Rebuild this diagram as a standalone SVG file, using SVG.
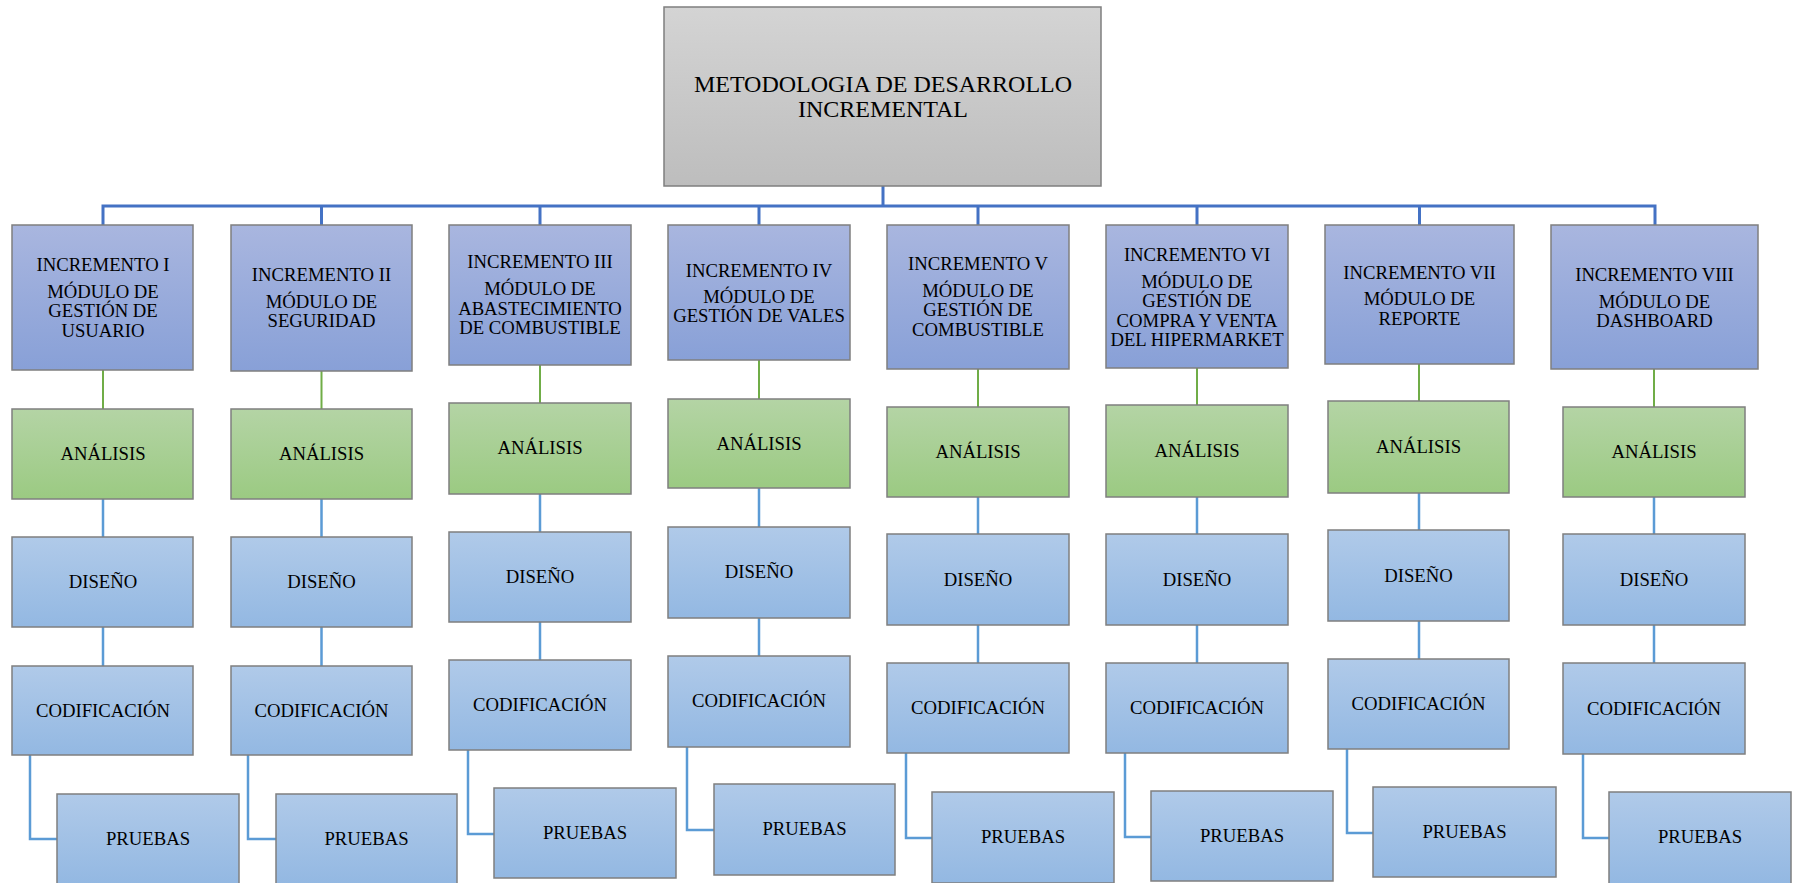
<svg xmlns="http://www.w3.org/2000/svg" width="1793" height="883" viewBox="0 0 1793 883">
<defs>
<linearGradient id="gGray" x1="0" y1="0" x2="0" y2="1"><stop offset="0" stop-color="#d4d4d4"/><stop offset="1" stop-color="#bdbdbd"/></linearGradient>
<linearGradient id="gInc" x1="0" y1="0" x2="0" y2="1"><stop offset="0" stop-color="#a9b6df"/><stop offset="1" stop-color="#88a0d7"/></linearGradient>
<linearGradient id="gAna" x1="0" y1="0" x2="0" y2="1"><stop offset="0" stop-color="#b4d4a5"/><stop offset="1" stop-color="#9bca82"/></linearGradient>
<linearGradient id="gStep" x1="0" y1="0" x2="0" y2="1"><stop offset="0" stop-color="#b0cae9"/><stop offset="1" stop-color="#93b8e2"/></linearGradient>
</defs>
<style>
rect{stroke:#7f7f7f;stroke-width:1.5}
.top{fill:url(#gGray)}
.inc{fill:url(#gInc)}
.ana{fill:url(#gAna)}
.stp{fill:url(#gStep)}
text{font-family:"Liberation Serif","Times New Roman",serif;font-size:18.7px;fill:#000;text-anchor:middle}
.t{font-size:24px}
.bus{fill:none;stroke:#4472c4;stroke-width:3}
.gr{fill:none;stroke:#70ad47;stroke-width:2}
.bl{fill:none;stroke:#5b9bd5;stroke-width:2.5}
</style>
<g id="connectors">
<path class="bus" d="M883,186V206M103,225V206H1655V225M321.5,206V225M540,206V225M759,206V225M978,206V225M1197,206V225M1419.5,206V225"/>
<path class="gr" d="M103,370V409M321.5,371V409M540,365V403M759,360V399M978,369V407M1197,368V405M1419,364V401M1654,369V407"/>
<path class="bl" d="M103,499V537M103,627V666M321.5,499V537M321.5,627V666M540,494V532M540,622V660M759,488V527M759,618V656M978,497V534M978,625V663M1197,497V534M1197,625V663M1419,493V530M1419,621V659M1654,497V534M1654,625V663"/>
<path class="bl" d="M30,755V839H57M248,755V839H276M468,750V834H494M687,747V830H714M906,753V838H932M1125,753V837H1151M1347,749V833H1373M1583,754V838H1609"/>
</g>
<g id="root"><rect class="top" x="664" y="7" width="437" height="179"/><text class="t" x="883" y="92">METODOLOGIA DE DESARROLLO</text><text class="t" x="883" y="117">INCREMENTAL</text></g>

<g id="inc1"><rect class="inc" x="12" y="225" width="181" height="145"/><text x="103" y="271">INCREMENTO I</text><text x="103" y="298">MÓDULO DE</text><text x="103" y="317">GESTIÓN DE</text><text x="103" y="337">USUARIO</text></g>
<g id="ana1"><rect class="ana" x="12" y="409" width="181" height="90"/><text x="103" y="460">ANÁLISIS</text></g>
<g id="dis1"><rect class="stp" x="12" y="537" width="181" height="90"/><text x="103" y="588">DISEÑO</text></g>
<g id="cod1"><rect class="stp" x="12" y="666" width="181" height="89"/><text x="103" y="717">CODIFICACIÓN</text></g>
<g id="pru1"><rect class="stp" x="57" y="794" width="182" height="90"/><text x="148" y="845">PRUEBAS</text></g>

<g id="inc2"><rect class="inc" x="231" y="225" width="181" height="146"/><text x="321.5" y="281">INCREMENTO II</text><text x="321.5" y="308">MÓDULO DE</text><text x="321.5" y="327">SEGURIDAD</text></g>
<g id="ana2"><rect class="ana" x="231" y="409" width="181" height="90"/><text x="321.5" y="460">ANÁLISIS</text></g>
<g id="dis2"><rect class="stp" x="231" y="537" width="181" height="90"/><text x="321.5" y="588">DISEÑO</text></g>
<g id="cod2"><rect class="stp" x="231" y="666" width="181" height="89"/><text x="321.5" y="717">CODIFICACIÓN</text></g>
<g id="pru2"><rect class="stp" x="276" y="794" width="181" height="90"/><text x="366.5" y="845">PRUEBAS</text></g>

<g id="inc3"><rect class="inc" x="449" y="225" width="182" height="140"/><text x="540" y="268">INCREMENTO III</text><text x="540" y="295">MÓDULO DE</text><text x="540" y="315">ABASTECIMIENTO</text><text x="540" y="334">DE COMBUSTIBLE</text></g>
<g id="ana3"><rect class="ana" x="449" y="403" width="182" height="91"/><text x="540" y="454">ANÁLISIS</text></g>
<g id="dis3"><rect class="stp" x="449" y="532" width="182" height="90"/><text x="540" y="583">DISEÑO</text></g>
<g id="cod3"><rect class="stp" x="449" y="660" width="182" height="90"/><text x="540" y="711">CODIFICACIÓN</text></g>
<g id="pru3"><rect class="stp" x="494" y="788" width="182" height="90"/><text x="585" y="839">PRUEBAS</text></g>

<g id="inc4"><rect class="inc" x="668" y="225" width="182" height="135"/><text x="759" y="277">INCREMENTO IV</text><text x="759" y="303">MÓDULO DE</text><text x="759" y="322">GESTIÓN DE VALES</text></g>
<g id="ana4"><rect class="ana" x="668" y="399" width="182" height="89"/><text x="759" y="450">ANÁLISIS</text></g>
<g id="dis4"><rect class="stp" x="668" y="527" width="182" height="91"/><text x="759" y="578">DISEÑO</text></g>
<g id="cod4"><rect class="stp" x="668" y="656" width="182" height="91"/><text x="759" y="707">CODIFICACIÓN</text></g>
<g id="pru4"><rect class="stp" x="714" y="784" width="181" height="91"/><text x="804.5" y="835">PRUEBAS</text></g>

<g id="inc5"><rect class="inc" x="887" y="225" width="182" height="144"/><text x="978" y="270">INCREMENTO V</text><text x="978" y="297">MÓDULO DE</text><text x="978" y="316">GESTIÓN DE</text><text x="978" y="336">COMBUSTIBLE</text></g>
<g id="ana5"><rect class="ana" x="887" y="407" width="182" height="90"/><text x="978" y="458">ANÁLISIS</text></g>
<g id="dis5"><rect class="stp" x="887" y="534" width="182" height="91"/><text x="978" y="586">DISEÑO</text></g>
<g id="cod5"><rect class="stp" x="887" y="663" width="182" height="90"/><text x="978" y="714">CODIFICACIÓN</text></g>
<g id="pru5"><rect class="stp" x="932" y="792" width="182" height="91"/><text x="1023" y="843">PRUEBAS</text></g>

<g id="inc6"><rect class="inc" x="1106" y="225" width="182" height="143"/><text x="1197" y="261">INCREMENTO VI</text><text x="1197" y="288">MÓDULO DE</text><text x="1197" y="307">GESTIÓN DE</text><text x="1197" y="327">COMPRA Y VENTA</text><text x="1197" y="346">DEL HIPERMARKET</text></g>
<g id="ana6"><rect class="ana" x="1106" y="405" width="182" height="92"/><text x="1197" y="457">ANÁLISIS</text></g>
<g id="dis6"><rect class="stp" x="1106" y="534" width="182" height="91"/><text x="1197" y="586">DISEÑO</text></g>
<g id="cod6"><rect class="stp" x="1106" y="663" width="182" height="90"/><text x="1197" y="714">CODIFICACIÓN</text></g>
<g id="pru6"><rect class="stp" x="1151" y="791" width="182" height="90"/><text x="1242" y="842">PRUEBAS</text></g>

<g id="inc7"><rect class="inc" x="1325" y="225" width="189" height="139"/><text x="1419.5" y="279">INCREMENTO VII</text><text x="1419.5" y="305">MÓDULO DE</text><text x="1419.5" y="325">REPORTE</text></g>
<g id="ana7"><rect class="ana" x="1328" y="401" width="181" height="92"/><text x="1418.5" y="453">ANÁLISIS</text></g>
<g id="dis7"><rect class="stp" x="1328" y="530" width="181" height="91"/><text x="1418.5" y="582">DISEÑO</text></g>
<g id="cod7"><rect class="stp" x="1328" y="659" width="181" height="90"/><text x="1418.5" y="710">CODIFICACIÓN</text></g>
<g id="pru7"><rect class="stp" x="1373" y="787" width="183" height="90"/><text x="1464.5" y="838">PRUEBAS</text></g>

<g id="inc8"><rect class="inc" x="1551" y="225" width="207" height="144"/><text x="1654.5" y="281">INCREMENTO VIII</text><text x="1654.5" y="308">MÓDULO DE</text><text x="1654.5" y="327">DASHBOARD</text></g>
<g id="ana8"><rect class="ana" x="1563" y="407" width="182" height="90"/><text x="1654" y="458">ANÁLISIS</text></g>
<g id="dis8"><rect class="stp" x="1563" y="534" width="182" height="91"/><text x="1654" y="586">DISEÑO</text></g>
<g id="cod8"><rect class="stp" x="1563" y="663" width="182" height="91"/><text x="1654" y="715">CODIFICACIÓN</text></g>
<g id="pru8"><rect class="stp" x="1609" y="792" width="182" height="92"/><text x="1700" y="843">PRUEBAS</text></g>
</svg>
